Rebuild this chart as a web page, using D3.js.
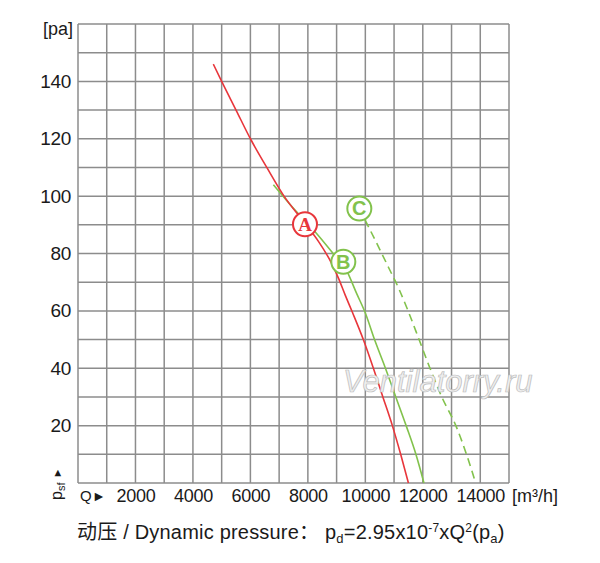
<!DOCTYPE html>
<html>
<head>
<meta charset="utf-8">
<script src="https://cdn.jsdelivr.net/npm/d3@7"></script>
<style>
  body { margin: 0; background: #fff; }
  svg { display: block; font-family: "Liberation Sans", Arial, Helvetica, sans-serif; }
</style>
</head>
<body>
<svg id="chart" width="600" height="563"></svg>
<script>
"use strict";

// curve A (red, solid): airflow Q [m3/h] vs static pressure psf [pa]
const redQ = [4710, 5000, 5500, 6000, 6570, 7170, 7900, 8350, 8750, 9060, 9300, 9550, 9930, 10280, 10610, 10940, 11230, 11500];
const redP = [146, 140, 130, 120, 110, 100, 90.5, 84.5, 78, 71.5, 65.5, 59.5, 50, 40, 30, 20, 10, 0];

// curve B (green, solid)
const greenQ = [6800, 7600, 8250, 8830, 9370, 9700, 9990, 10320, 10700, 11060, 11420, 11760, 12040];
const greenP = [104, 94.6, 87.6, 80.6, 73.6, 66, 59.5, 50, 40, 30, 20, 10, 0];

// curve C (green, dashed)
const dashQ = [9990, 10400, 10800, 11185, 11500, 11870, 12250, 12660, 13150, 13520, 13840];
const dashP = [91.7, 83.5, 75.3, 67.3, 59.7, 50, 40, 30, 20, 10, 0];

// circled markers
const markNames = ["A", "B", "C"];
const markQ = [7900, 9234, 9791];
const markP = [90.2, 77.1, 95.7];

const xTicks = [2000, 4000, 6000, 8000, 10000, 12000, 14000];
const yTicks = [20, 40, 60, 80, 100, 120, 140];

const red = "#e8363b", green = "#82c24c", gridColor = "#8c8c8c", textColor = "#1a1a1a";

const svg = d3.select("#chart");
const x = d3.scaleLinear().domain([0, 15000]).range([78, 509]);
const y = d3.scaleLinear().domain([0, 160]).range([483, 24]);

// grid
const grid = svg.append("g");
grid.selectAll("line.v").data(d3.range(0, 15001, 1000)).enter().append("line")
  .attr("x1", d => x(d)).attr("x2", d => x(d)).attr("y1", y(0)).attr("y2", y(160))
  .attr("stroke", gridColor).attr("stroke-width", 1.5);
grid.selectAll("line.h").data(d3.range(0, 161, 10)).enter().append("line")
  .attr("y1", d => y(d)).attr("y2", d => y(d)).attr("x1", x(0)).attr("x2", x(15000))
  .attr("stroke", gridColor).attr("stroke-width", 1.5);

// axes (labels only, the grid draws the lines)
const yAxis = svg.append("g").attr("transform", "translate(" + x(0) + ",0)")
  .call(d3.axisLeft(y).tickValues(yTicks).tickSize(0).tickPadding(7));
const xAxis = svg.append("g").attr("transform", "translate(0," + y(0) + ")")
  .call(d3.axisBottom(x).tickValues(xTicks).tickSize(0).tickPadding(6).tickFormat(d3.format("d")));
[yAxis, xAxis].forEach(function(a) {
  a.select(".domain").remove();
  a.selectAll("text").attr("font-size", 18).attr("fill", textColor).attr("font-family", null).attr("letter-spacing", -0.3);
});
yAxis.selectAll("text").attr("font-size", 19);

// unit labels
svg.append("text").attr("x", 73).attr("y", 35).attr("text-anchor", "end")
  .attr("font-size", 18).attr("fill", textColor).text("[pa]");
svg.append("text").attr("x", 512).attr("y", 502)
  .attr("font-size", 18).attr("fill", textColor).text("[m³/h]");

svg.append("text").attr("x", 80).attr("y", 501)
  .attr("font-size", 15).attr("fill", textColor).text("Q");
svg.append("text").attr("x", 92).attr("y", 501)
  .attr("font-size", 14).attr("fill", textColor).text("►");

// rotated psf label
const psf = svg.append("text").attr("transform", "translate(62,500) rotate(-90)")
  .attr("font-size", 16).attr("fill", textColor);
psf.append("tspan").text("p");
psf.append("tspan").attr("font-size", 11).attr("dy", 3).text("sf");
psf.append("tspan").attr("font-size", 11).attr("dy", -4).attr("dx", 4).text("►");

// curves
const line = d3.line().x(d => x(d[0])).y(d => y(d[1])).curve(d3.curveMonotoneX);
const curves = [
  {pts: d3.zip(greenQ, greenP), color: green, dash: null},
  {pts: d3.zip(dashQ, dashP), color: green, dash: "8,5"},
  {pts: d3.zip(redQ, redP), color: red, dash: null}
];
curves.forEach(function(c) {
  svg.append("path").attr("d", line(c.pts)).attr("fill", "none")
    .attr("stroke", c.color).attr("stroke-width", 1.6).attr("stroke-dasharray", c.dash);
});

// circled letters
markNames.forEach(function(n, i) {
  const col = n === "A" ? red : green;
  const g = svg.append("g").attr("transform", "translate(" + x(markQ[i]) + "," + y(markP[i]) + ")");
  g.append("circle").attr("r", 12).attr("fill", "#fff").attr("stroke", col).attr("stroke-width", 2);
  g.append("text").attr("text-anchor", "middle").attr("dy", n === "A" ? 6.5 : 7)
    .attr("font-size", n === "A" ? 19 : 20).attr("font-weight", "bold")
    .attr("font-family", n === "A" ? "'Liberation Serif', 'Times New Roman', serif" : null)
    .attr("fill", col).text(n);
});

// watermark
svg.append("text").attr("x", 343).attr("y", 392)
  .attr("font-size", 31).attr("font-style", "italic")
  .attr("fill", "#eeeeee").attr("stroke", "#bcbcbc").attr("stroke-width", 0.7)
  .text("Ventilatorry.ru");

// caption
const cap = svg.append("text").attr("x", 77).attr("y", 539).attr("font-size", 20)
  .attr("letter-spacing", 0.2).attr("fill", textColor);
cap.append("tspan").attr("font-family", "'Noto Sans CJK SC', sans-serif").text("动压");
cap.append("tspan").text(" / Dynamic pressure");
cap.append("tspan").attr("font-family", "'Noto Sans CJK SC', sans-serif").text("：");
cap.append("tspan").text(" p");
cap.append("tspan").attr("font-size", 13).attr("dy", 4).text("d");
cap.append("tspan").attr("dy", -4).text("=2.95x10");
cap.append("tspan").attr("font-size", 12).attr("dy", -7).text("-7");
cap.append("tspan").attr("dy", 7).text("xQ");
cap.append("tspan").attr("font-size", 12).attr("dy", -7).text("2");
cap.append("tspan").attr("dy", 7).text("(p");
cap.append("tspan").attr("font-size", 13).attr("dy", 4).text("a");
cap.append("tspan").attr("dy", -4).text(")");
</script>
</body>
</html>
